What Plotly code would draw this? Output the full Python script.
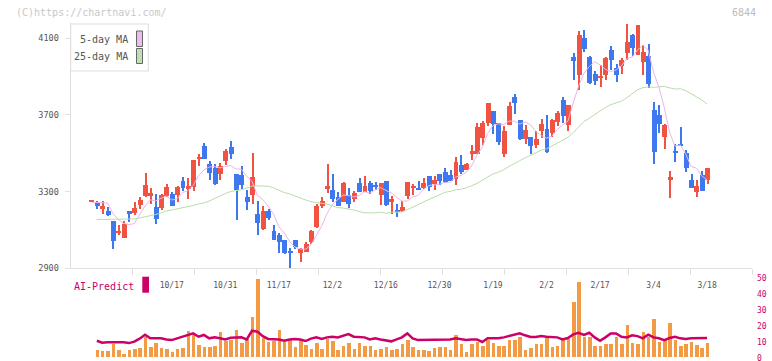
import plotly.graph_objects as go

W, H = 772, 361

# ---------------- data ----------------
open_ = [3249, 3241, 3211, 3199, 3147, 3084, 3060, 3199, 3189, 3232,
         3277, 3279, 3220, 3215, 3277, 3288, 3283, 3356, 3314, 3324,
         3470, 3538, 3444, 3424, 3392, 3460, 3533, 3392, 3387, 3272,
         3283, 3183, 3105, 3199, 3095, 3074, 3048, 2990, 3048, 2978,
         2987, 3037, 3116, 3225, 3314, 3309, 3272, 3246, 3283, 3262,
         3345, 3298, 3345, 3335, 3283, 3356, 3246, 3204, 3199, 3277,
         3324, 3319, 3319, 3382, 3340, 3392, 3403, 3387, 3366, 3439,
         3413, 3496, 3496, 3580, 3658, 3721, 3658, 3496, 3648, 3794,
         3674, 3575, 3585, 3543, 3617, 3627, 3606, 3663, 3778, 3648,
         4003, 3909, 4102, 4003, 3914, 3898, 3909, 4039, 3945, 3956,
         4023, 4117, 4013, 3977, 4008, 3726, 3700, 3585, 3361, 3512,
         3549, 3502, 3361, 3298, 3387, 3361]
high = [3257, 3253, 3251, 3222, 3147, 3126, 3147, 3199, 3246, 3272,
        3399, 3319, 3288, 3288, 3340, 3298, 3330, 3377, 3371, 3465,
        3496, 3554, 3460, 3444, 3450, 3523, 3564, 3392, 3434, 3309,
        3502, 3251, 3225, 3210, 3126, 3084, 3048, 3006, 3048, 3006,
        3037, 3100, 3236, 3272, 3444, 3392, 3298, 3350, 3319, 3304,
        3371, 3382, 3356, 3350, 3345, 3356, 3277, 3236, 3251, 3350,
        3340, 3356, 3371, 3382, 3382, 3392, 3423, 3413, 3481, 3491,
        3450, 3543, 3658, 3668, 3763, 3721, 3658, 3643, 3768, 3810,
        3674, 3648, 3585, 3617, 3679, 3700, 3679, 3721, 3794, 3752,
        4023, 4138, 4143, 4008, 3930, 3961, 4003, 4060, 3966, 3997,
        4175, 4123, 4170, 4065, 4070, 3768, 3752, 3653, 3408, 3549,
        3637, 3517, 3392, 3361, 3408, 3423]
low = [3246, 3208, 3185, 3173, 3001, 3074, 3060, 3143, 3178, 3210,
       3272, 3236, 3131, 3204, 3272, 3225, 3246, 3304, 3262, 3304,
       3434, 3470, 3361, 3335, 3361, 3439, 3470, 3152, 3314, 3204,
       3236, 3074, 3100, 3152, 3048, 2981, 2975, 2902, 3002, 2935,
       2984, 3027, 3110, 3215, 3293, 3246, 3225, 3246, 3215, 3246,
       3298, 3298, 3288, 3309, 3230, 3225, 3183, 3168, 3194, 3262,
       3283, 3309, 3314, 3304, 3309, 3335, 3345, 3356, 3335, 3392,
       3413, 3465, 3496, 3543, 3643, 3601, 3543, 3481, 3648, 3705,
       3570, 3549, 3496, 3528, 3580, 3502, 3585, 3643, 3658, 3617,
       3883, 3830, 4029, 3862, 3857, 3846, 3883, 3935, 3872, 3914,
       3987, 4008, 4013, 3909, 3841, 3444, 3606, 3523, 3267, 3455,
       3538, 3403, 3319, 3272, 3304, 3340]
close = [3254, 3227, 3225, 3180, 3044, 3095, 3131, 3185, 3215, 3257,
         3335, 3293, 3157, 3283, 3324, 3225, 3324, 3319, 3330, 3465,
         3481, 3470, 3397, 3340, 3434, 3512, 3497, 3309, 3335, 3246,
         3377, 3137, 3199, 3163, 3048, 3037, 2978, 2978, 3013, 3001,
         3027, 3095, 3225, 3251, 3330, 3262, 3225, 3345, 3236, 3293,
         3298, 3330, 3304, 3324, 3345, 3230, 3262, 3194, 3220, 3350,
         3330, 3309, 3345, 3324, 3361, 3356, 3350, 3356, 3455, 3403,
         3444, 3512, 3637, 3658, 3763, 3653, 3559, 3617, 3747, 3763,
         3575, 3622, 3538, 3575, 3653, 3507, 3674, 3710, 3695, 3752,
         3982, 4117, 4044, 3867, 3877, 3903, 3997, 3987, 3909, 3987,
         4081, 4050, 4170, 4029, 3862, 3507, 3653, 3648, 3377, 3502,
         3538, 3423, 3319, 3330, 3304, 3423]
ma5 = [3244.5, 3244.5, 3243.5, 3240.9, 3186.1, 3154.3, 3135.0, 3127.1, 3133.9, 3176.7,
       3224.7, 3257.0, 3251.3, 3264.9, 3278.4, 3256.5, 3262.8, 3295.1, 3304.5, 3332.7,
       3383.8, 3413.0, 3428.7, 3430.8, 3424.5, 3430.8, 3436.0, 3418.3, 3417.2, 3379.6,
       3352.5, 3280.5, 3258.6, 3224.2, 3184.5, 3116.7, 3084.9, 3041.0, 3010.8, 3001.4,
       2999.3, 3022.8, 3072.3, 3119.8, 3185.6, 3232.5, 3258.6, 3282.6, 3279.5, 3272.2,
       3279.5, 3300.3, 3292.0, 3309.7, 3320.2, 3306.6, 3293.0, 3271.1, 3250.3, 3251.3,
       3271.1, 3280.5, 3310.8, 3331.6, 3333.7, 3339.0, 3347.3, 3349.4, 3375.5, 3383.8,
       3401.6, 3433.9, 3490.3, 3531.0, 3603.0, 3644.7, 3654.1, 3649.9, 3667.7, 3667.7,
       3652.0, 3664.5, 3648.9, 3614.4, 3592.5, 3579.0, 3589.4, 3623.8, 3647.8, 3667.7,
       3762.6, 3851.3, 3918.1, 3952.5, 3977.6, 3961.9, 3937.9, 3926.4, 3934.8, 3956.7,
       3992.2, 4002.6, 4039.1, 4063.1, 4038.1, 3923.3, 3844.0, 3739.6, 3609.2, 3537.2,
       3543.5, 3497.6, 3431.8, 3422.4, 3382.8, 3359.8]
ma25 = [None, 3154.8, 3154.8, 3154.8, 3154.8, 3154.8, 3154.8, 3155.8, 3157.4, 3162.6,
        3167.8, 3173.0, 3180.9, 3188.7, 3199.1, 3204.3, 3209.6, 3214.8, 3220.0, 3227.8,
        3235.7, 3240.9, 3251.3, 3264.3, 3279.6, 3290.0, 3300.8, 3304.1, 3310.3, 3318.3,
        3329.6, 3329.8, 3330.4, 3328.3, 3320.0, 3308.1, 3295.5, 3288.3, 3277.5, 3264.6,
        3256.7, 3247.5, 3243.7, 3240.6, 3235.2, 3226.4, 3216.6, 3214.5, 3210.3, 3204.7,
        3196.2, 3189.5, 3189.3, 3188.9, 3192.8, 3187.0, 3192.0, 3191.8, 3194.1, 3206.2,
        3217.9, 3231.1, 3245.7, 3258.2, 3272.6, 3285.7, 3296.0, 3301.2, 3309.3, 3312.2,
        3319.5, 3331.0, 3342.7, 3359.6, 3378.4, 3392.6, 3401.8, 3414.3, 3431.2, 3447.9,
        3461.7, 3476.1, 3489.8, 3504.0, 3516.1, 3523.2, 3537.8, 3552.4, 3567.3, 3582.9,
        3608.0, 3638.6, 3666.2, 3682.7, 3701.7, 3720.0, 3739.4, 3753.4, 3763.4, 3772.4,
        3789.5, 3809.1, 3831.3, 3842.5, 3846.5, 3843.8, 3845.0, 3849.4, 3841.5, 3835.4,
        3836.7, 3826.7, 3811.0, 3796.4, 3778.5, 3756.1]
volume = [None, 4.4, 3.8, 3.8, 8.6, 4.4, 2.3, 4.4, 5.2, 5.7,
          12.8, 6.7, 9.0, 5.7, 5.5, 3.6, 5.2, 5.7, 16.4, 14.1,
          8.0, 6.7, 6.5, 6.9, 15.7, 10.1, 10.7, 17.4, 9.0, 11.5,
          25.2, 49.5, 12.2, 9.7, 10.1, 17.0, 9.4, 10.7, 6.7, 11.1,
          7.6, 5.5, 8.8, 5.0, 11.5, 10.1, 4.8, 7.3, 9.2, 5.2,
          9.2, 6.9, 6.9, 4.8, 5.2, 6.3, 4.4, 5.5, 8.6, 11.1,
          6.7, 4.4, 4.8, 3.8, 5.7, 6.3, 6.7, 4.4, 13.9, 8.2,
          3.6, 8.4, 9.9, 7.3, 11.1, 9.2, 7.3, 7.3, 10.7, 10.7,
          12.8, 4.4, 6.1, 8.6, 8.6, 12.0, 6.7, 7.3, 10.7, 11.5,
          35.1, 47.6, 13.0, 12.8, 7.3, 7.3, 8.6, 8.2, 12.8, 8.2,
          20.6, 9.2, 8.2, 15.7, 12.8, 24.3, 9.9, 11.5, 21.8, 10.7,
          7.3, 8.6, 9.9, 7.6, 6.1, 9.2]
ai_predict = [None, 10.7, 9.4, 9.7, 9.7, 9.7, 9.7, 9.2, 10.1, 12.0,
              14.5, 12.2, 12.2, 12.2, 11.5, 11.1, 12.2, 13.2, 14.1, 15.3,
              13.2, 14.3, 12.2, 12.8, 12.2, 11.5, 12.6, 12.8, 12.8, 11.5,
              17.0, 16.4, 13.6, 11.8, 11.5, 11.5, 10.7, 11.5, 11.8, 11.5,
              10.5, 12.0, 12.8, 11.8, 12.8, 13.2, 12.8, 13.9, 14.9, 13.2,
              12.8, 12.8, 11.5, 12.2, 11.5, 11.1, 10.3, 11.5, 12.8, 15.3,
              12.2, 11.1, 11.1, 11.3, 11.5, 11.5, 11.3, 11.5, 12.2, 11.5,
              11.1, 11.5, 11.5, 9.9, 12.2, 12.2, 12.2, 12.8, 13.6, 14.7,
              15.3, 14.1, 13.0, 13.0, 13.6, 13.2, 12.8, 12.8, 11.5, 12.4,
              14.7, 15.7, 14.3, 15.7, 12.8, 10.7, 12.8, 15.3, 15.3, 13.2,
              12.8, 14.1, 13.6, 12.2, 14.5, 12.8, 12.2, 11.1, 12.4, 13.2,
              12.2, 11.8, 12.2, 12.4, 12.4, 12.4]
date_labels = ["10/17", "10/31", "11/17", "12/2", "12/16", "12/30",
               "1/19", "2/2", "2/17", "3/4", "3/18"]
date_pos = [15, 25, 35, 45, 55, 65, 75, 85, 95, 105, 115]
price_ticks = [2900, 3300, 3700, 4100]
vol_ticks = [0, 10, 20, 30, 40, 50]

# ---------------- styling ----------------
RED = "#f15343"
BLUE = "#3f78ee"
ORANGE = "#f39a45"
CRIMSON = "#cc0066"
PINK = "#e8b6e8"
GREEN = "#b8dcaa"
AXIS = "#e0e0e0"
FONT = "DejaVu Sans Mono"

def px(x):
    return x / W

def py(y):
    return 1 - y / H

idx = list(range(len(close)))
colors = [RED if c >= o else BLUE for o, c in zip(open_, close)]
body_base = [min(o, c) for o, c in zip(open_, close)]
body_h = [max(abs(c - o), 5) for o, c in zip(open_, close)]
wick_h = [h - l for h, l in zip(high, low)]

X0, X1 = -3.92, 123.39

fig = go.Figure()
fig.add_trace(go.Scatter(x=idx, y=ma25, mode="lines", line=dict(color=GREEN, width=1),
                         hoverinfo="skip", showlegend=False))
fig.add_trace(go.Scatter(x=idx, y=ma5, mode="lines", line=dict(color=PINK, width=1),
                         hoverinfo="skip", showlegend=False))
fig.add_trace(go.Bar(x=idx, y=wick_h, base=low, width=0.19, marker=dict(color=colors, line=dict(width=0)),
                     showlegend=False))
fig.add_trace(go.Bar(x=idx, y=body_h, base=body_base, width=0.93, marker=dict(color=colors, line=dict(width=0)),
                     showlegend=False))
fig.add_trace(go.Bar(x=idx, y=volume, width=0.66, marker=dict(color=ORANGE, line=dict(width=0)),
                     xaxis="x2", yaxis="y2", showlegend=False))
fig.add_trace(go.Scatter(x=idx, y=ai_predict, mode="lines", line=dict(color=CRIMSON, width=2.5),
                         xaxis="x2", yaxis="y2", showlegend=False))

minor_vals = [X0 + k * (X1 - X0) / 11 for k in range(1, 12)]

fig.update_layout(
    width=W, height=H, margin=dict(l=0, r=0, t=0, b=0, autoexpand=False),
    paper_bgcolor="white", plot_bgcolor="white",
    barmode="overlay", bargap=0, showlegend=False,
    font=dict(family=FONT, color="#555555", size=9),
    xaxis=dict(domain=[px(70.5), px(752)], range=[X0, X1], anchor="y", automargin=False,
               showline=True, linecolor=AXIS, linewidth=1, showgrid=False, zeroline=False,
               tickmode="array", tickvals=date_pos, ticktext=date_labels, ticks="",
               ticklabelstandoff=9, tickfont=dict(family=FONT, size=8, color="#555555"),
               minor=dict(tickmode="array", tickvals=minor_vals, ticks="outside", ticklen=6,
                          tickcolor=AXIS, tickwidth=1, showgrid=False)),
    yaxis=dict(domain=[py(268.3), py(23)], range=[2900, 4179.8], anchor="x", automargin=False,
               showline=True, linecolor=AXIS, linewidth=1, showgrid=False, zeroline=False,
               tickmode="array", tickvals=price_ticks, ticks="outside", ticklen=5,
               tickcolor=AXIS, ticklabelstandoff=4,
               tickfont=dict(family=FONT, size=8.5, color="#555555")),
    xaxis2=dict(domain=[px(70.5), px(752)], range=[X0, X1], anchor="y2", visible=False,
                automargin=False),
    yaxis2=dict(domain=[py(357.7), py(278.3)], range=[0, 50], anchor="x2", side="right",
                automargin=False, ticklabeloverflow="allow",
                showline=False, showgrid=False, zeroline=False, ticks="",
                tickmode="array", tickvals=vol_ticks, ticklabelstandoff=4,
                tickfont=dict(family=FONT, size=8, color=CRIMSON)),
)

shapes = [
    dict(type="rect", xref="paper", yref="paper", x0=px(70.7), x1=px(148.3), y0=py(71), y1=py(24),
         line=dict(color="#dddddd", width=1), fillcolor="white", layer="above"),
    dict(type="rect", xref="paper", yref="paper", x0=px(136.5), x1=px(142.5), y0=py(46.5), y1=py(31),
         line=dict(color="#666666", width=1), fillcolor="#ecbcec", layer="above"),
    dict(type="rect", xref="paper", yref="paper", x0=px(136.5), x1=px(142.5), y0=py(63.5), y1=py(48.5),
         line=dict(color="#666666", width=1), fillcolor="#bfe0b2", layer="above"),
    dict(type="rect", xref="paper", yref="paper", x0=px(142.3), x1=px(149), y0=py(292.7), y1=py(276.7),
         line=dict(width=0), fillcolor=CRIMSON, layer="above"),
]
annotations = [
    dict(text="(C)https://chartnavi.com/", x=px(13.5), y=py(12), xref="paper", yref="paper",
         xanchor="left", yanchor="middle", showarrow=False,
         font=dict(family=FONT, size=10, color="#c8c8c8")),
    dict(text="6844", x=px(757.5), y=py(12), xref="paper", yref="paper",
         xanchor="right", yanchor="middle", showarrow=False,
         font=dict(family=FONT, size=10, color="#bbbbbb")),
    dict(text="5-day MA", x=px(130), y=py(39.5), xref="paper", yref="paper",
         xanchor="right", yanchor="middle", showarrow=False,
         font=dict(family=FONT, size=10, color="#555555")),
    dict(text="25-day MA", x=px(130), y=py(56.5), xref="paper", yref="paper",
         xanchor="right", yanchor="middle", showarrow=False,
         font=dict(family=FONT, size=10, color="#555555")),
    dict(text="AI-Predict", x=px(135.5), y=py(286), xref="paper", yref="paper",
         xanchor="right", yanchor="middle", showarrow=False,
         font=dict(family=FONT, size=10, color=CRIMSON)),
]
fig.update_layout(shapes=shapes, annotations=annotations)

fig.write_html("out.html", config={"displayModeBar": False},
               post_script="document.body.style.margin='0';document.body.style.padding='0';")
